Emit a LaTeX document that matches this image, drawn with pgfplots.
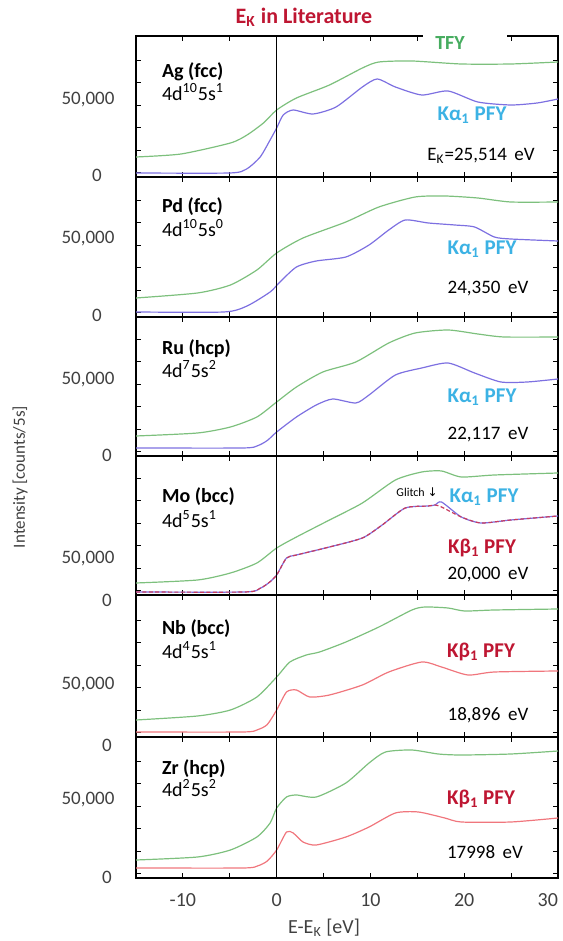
\documentclass[border=0pt]{standalone}
\usepackage{fontspec}
\setmainfont{Carlito}
\newfontfamily\dejavu{DejaVu Sans}
\usepackage{pgfplots}
\pgfplotsset{compat=1.18}
\definecolor{tfy}{RGB}{125,192,125}
\definecolor{kaline}{RGB}{125,112,225}
\definecolor{kbline}{RGB}{240,118,125}
\definecolor{kbdash}{RGB}{200,60,95}
\definecolor{kalabel}{RGB}{60,178,228}
\definecolor{kblabel}{RGB}{190,22,50}
\definecolor{tfylabel}{RGB}{70,172,95}
\definecolor{ticklab}{RGB}{64,64,64}
\newcommand{\fs}[1]{\fontsize{#1}{#1}\selectfont}
\pgfplotsset{
  panel/.style={
    scale only axis, width=211pt,
    xmin=-15, xmax=30, ymin=-1333,
    scaled x ticks=false, scaled y ticks=false,
    xtick={-10,0,10,20,30}, minor xtick={-5,5,15,25},
    xticklabels={},
    ytick={1500,16500,31500,46500,61500,76500}, yticklabels={},
    tick align=inside, major tick length=2.5pt, minor tick length=2.5pt,
    tick style={black, line width=0.4pt},
    axis line style={black, line width=0.75pt},
    every axis plot/.append style={line width=0.6pt, smooth, tension=0.4, mark=none},
    /pgf/number format/assume math mode=true,
  },
}
\begin{document}
\begin{tikzpicture}
\path[use as bounding box] (0,0) rectangle (281pt,470.5pt);

% ---------- Ag ----------
\begin{axis}[panel, at={(68pt,382pt)}, anchor=south west, height=70.5pt, ymax=92667]
\addplot[tfy] coordinates {(-15,12000) (-10.2,14000) (-4.93,21333) (-3.16,26667) (-1.41,34667) (0,43333) (2.11,51333) (5.63,60000) (9.14,71333) (10.9,75333) (14.42,76000) (19.69,74000) (24.96,74000) (30,75333)};
\addplot[kaline] coordinates {(-15,1333) (-5,1333) (-3.2,4000) (-1.76,12000) (-0.70,23333) (0,31333) (0.70,40000) (1.76,43333) (3.87,40667) (6.33,45333) (9.14,58667) (10.72,64000) (12.66,58667) (15.47,53333) (18.28,56000) (21.45,48667) (24.96,46667) (27.78,48000) (30,50667)};
\addplot[black, line width=0.6pt, sharp plot] coordinates {(0,-2000) (0,95000)};
\end{axis}

% ---------- Pd ----------
\begin{axis}[panel, at={(68pt,312pt)}, anchor=south west, height=70pt, ymax=92000]
\addplot[tfy] coordinates {(-15,11333) (-8.44,14667) (-4.93,20000) (-2.11,30000) (0,41333) (2.81,51333) (7.38,62000) (10.9,72000) (14.77,78667) (17.93,79333) (21.45,78000) (24.96,75333) (30,75333)};
\addplot[kaline] coordinates {(-15,2000) (-5.63,2000) (-3.16,6000) (-0.70,15333) (0.35,22000) (2.11,32000) (4.22,36000) (7.38,38667) (9.85,46667) (11.95,56667) (13.71,63333) (16.17,61333) (18.99,60000) (21.10,58667) (23.21,52000) (24.96,50667) (30,49333)};
\addplot[black, line width=0.6pt, sharp plot] coordinates {(0,-2000) (0,95000)};
\end{axis}

% ---------- Ru ----------
\begin{axis}[panel, at={(68pt,242.5pt)}, anchor=south west, height=69.5pt, ymax=91333]
\addplot[tfy] coordinates {(-15,12000) (-8.44,14000) (-4.93,18000) (-2.11,24667) (0,34667) (2.11,44667) (4.92,54667) (8.44,61333) (11.95,74000) (14.77,80667) (18.28,82667) (21.45,80000) (24.26,78000) (30,78000)};
\addplot[kaline] coordinates {(-15,4000) (-3.6,4000) (-2,5600) (-1,9000) (0,14667) (2.11,24667) (4.22,32667) (5.98,36667) (8.44,34000) (9.85,39333) (12.66,52667) (15.47,57333) (18.28,60667) (21.10,54000) (23.91,48000) (26.72,48000) (30,50000)};
\addplot[black, line width=0.6pt, sharp plot] coordinates {(0,-2000) (0,95000)};
\end{axis}

% ---------- Mo ----------
\begin{axis}[panel, at={(68pt,173pt)}, anchor=south west, height=69.5pt, ymax=91333]
\addplot[tfy] coordinates {(-15,6667) (-8.44,8667) (-4.93,13333) (-2.11,20000) (0,30000) (2.11,37333) (5.63,48667) (9.14,60000) (12.66,75333) (15.47,80667) (17.58,81333) (19.69,77333) (23.21,78667) (30,80000)};
\addplot[kaline] coordinates {(-15,667) (-3.4,667) (-1.8,3000) (-0.8,7000) (0,12000) (1.05,23333) (2.11,25333) (5.63,30667) (9.14,36667) (11.25,45333) (13.71,56667) (16.17,58000) (16.88,58667) (17.58,60667) (19.69,50667) (21.80,46667) (24.96,48667) (30,51333)};
\addplot[kbdash, line width=0.6pt, dash pattern=on 2pt off 1.2pt] coordinates {(-15,667) (-3.4,667) (-1.8,3000) (-0.8,7000) (0,12000) (1.05,23333) (2.11,25333) (5.63,30667) (9.14,36667) (11.25,45333) (13.71,56667) (16.17,58000) (16.88,58667) (17.58,57333) (19.69,50667) (21.80,46667) (24.96,48667) (30,51333)};
\addplot[black, line width=0.6pt, sharp plot] coordinates {(0,-2000) (0,95000)};
\end{axis}

% ---------- Nb ----------
\begin{axis}[panel, at={(68pt,102pt)}, anchor=south west, height=71pt, ymax=93333]
\addplot[tfy] coordinates {(-15,10000) (-8.44,12667) (-4.93,16667) (-2.11,25333) (0,38667) (1.41,48667) (3.16,53333) (4.57,55333) (7.38,62000) (10.9,72000) (14.42,83333) (15.82,85333) (18.28,84667) (20.04,82667) (23.21,83333) (30,84000)};
\addplot[kbline] coordinates {(-15,2000) (-3.6,2000) (-2,3600) (-1,7000) (0,16667) (1.05,28667) (2.11,30000) (3.52,25333) (5.63,26667) (9.14,33333) (11.95,42000) (15.47,48667) (17.58,45333) (20.39,40000) (23.21,42000) (30,42667)};
\addplot[black, line width=0.6pt, sharp plot] coordinates {(0,-2000) (0,95000)};
\end{axis}

% ---------- Zr ----------
\begin{axis}[panel, at={(68pt,31.5pt)}, anchor=south west, height=70.5pt, ymax=92667,
  xticklabels={-10,0,10,20,\llap{30}},
  xticklabel style={font=\fs{10}, color=ticklab, yshift=-4pt}]
\addplot[tfy] coordinates {(-15,10667) (-8.44,12667) (-4.93,17333) (-2.11,26000) (-0.70,35333) (0,45333) (1.05,52667) (2.11,54000) (4.22,52667) (7.38,62000) (9.85,75333) (11.6,82667) (14.42,84000) (17.23,81333) (19.69,80667) (24.96,81333) (30,83333)};
\addplot[kbline] coordinates {(-15,5333) (-3.6,5333) (-2,6800) (-1,10000) (0,17333) (1.05,29333) (1.76,28667) (2.81,22667) (4.22,20667) (7.38,26000) (9.85,32667) (12.66,42000) (15.12,42667) (17.93,38667) (19.69,36000) (24.96,36000) (30,38667)};
\addplot[black, line width=0.6pt, sharp plot] coordinates {(0,-2000) (0,95000)};
\end{axis}

% ---------- texts (pixel coordinates of the reference) ----------
\begin{scope}[yshift=470.5pt, x=0.5pt, y=-0.5pt]
  \node[font=\fs{11}\bfseries, color=kblabel] at (304,17) {E\textsubscript{K} in Literature};
  \fill[white] (423,31) rectangle (507,41);
  \node[font=\fs{10}\bfseries, color=tfylabel] at (450,43) {TFY};

  % y tick labels
  \foreach \yy in {175,315} {\node[font=\fs{9.5}, color=ticklab] at (97,\yy) {0};}
  \foreach \yy in {455,600,745,877} {\node[font=\fs{9.5}, color=ticklab] at (107,\yy) {0};}
  \foreach \yy in {100,239,380,559,685,800} {\node[font=\fs{9.5}, color=ticklab] at (88,\yy) {50,000};}

  \node[font=\fs{8.5}, color=ticklab, rotate=90] at (20,477) {Intensity [counts/5s]};
  \node[font=\fs{10}, color=ticklab] at (324,928) {E-E\textsubscript{K} [eV]};

  % Ag
  \node[anchor=west, font=\fs{10}\bfseries] at (155,72) {Ag (fcc)};
  \node[anchor=west, font=\fs{10}] at (155,92) {4d\textsuperscript{10}5s\textsuperscript{1}};
  \node[font=\fs{10.5}\bfseries, color=kalabel] at (472,115) {Kα\textsubscript{1} PFY};
  \node[font=\fs{9.5}] at (481,156) {E\textsubscript{K}=25,514\, eV};
  % Pd
  \node[anchor=west, font=\fs{10}\bfseries] at (155,207) {Pd (fcc)};
  \node[anchor=west, font=\fs{10}] at (155,228) {4d\textsuperscript{10}5s\textsuperscript{0}};
  \node[font=\fs{10.5}\bfseries, color=kalabel] at (482,249) {Kα\textsubscript{1} PFY};
  \node[font=\fs{9.5}] at (488,289) {24,350\, eV};
  % Ru
  \node[anchor=west, font=\fs{10}\bfseries] at (155,349) {Ru (hcp)};
  \node[anchor=west, font=\fs{10}] at (155,369) {4d\textsuperscript{7}5s\textsuperscript{2}};
  \node[font=\fs{10.5}\bfseries, color=kalabel] at (482,397) {Kα\textsubscript{1} PFY};
  \node[font=\fs{9.5}] at (488,435) {22,117\, eV};
  % Mo
  \node[anchor=west, font=\fs{10}\bfseries] at (155,497) {Mo (bcc)};
  \node[anchor=west, font=\fs{10}] at (155,519) {4d\textsuperscript{5}5s\textsuperscript{1}};
  \node[font=\fs{6}] at (417,492) {Glitch {\dejavu ↓}};
  \node[font=\fs{10.5}\bfseries, color=kalabel] at (484,497) {Kα\textsubscript{1} PFY};
  \node[font=\fs{10.5}\bfseries, color=kblabel] at (482,548) {Kβ\textsubscript{1} PFY};
  \node[font=\fs{9.5}] at (488,575) {20,000\, eV};
  % Nb
  \node[anchor=west, font=\fs{10}\bfseries] at (155,629) {Nb (bcc)};
  \node[anchor=west, font=\fs{10}] at (155,650) {4d\textsuperscript{4}5s\textsuperscript{1}};
  \node[font=\fs{10.5}\bfseries, color=kblabel] at (481,652) {Kβ\textsubscript{1} PFY};
  \node[font=\fs{9.5}] at (488,715) {18,896\, eV};
  % Zr
  \node[anchor=west, font=\fs{10}\bfseries] at (155,769) {Zr (hcp)};
  \node[anchor=west, font=\fs{10}] at (155,788) {4d\textsuperscript{2}5s\textsuperscript{2}};
  \node[font=\fs{10.5}\bfseries, color=kblabel] at (481,799) {Kβ\textsubscript{1} PFY};
  \node[font=\fs{9.5}] at (485,852) {17998\, eV};
\end{scope}
\end{tikzpicture}
\end{document}
